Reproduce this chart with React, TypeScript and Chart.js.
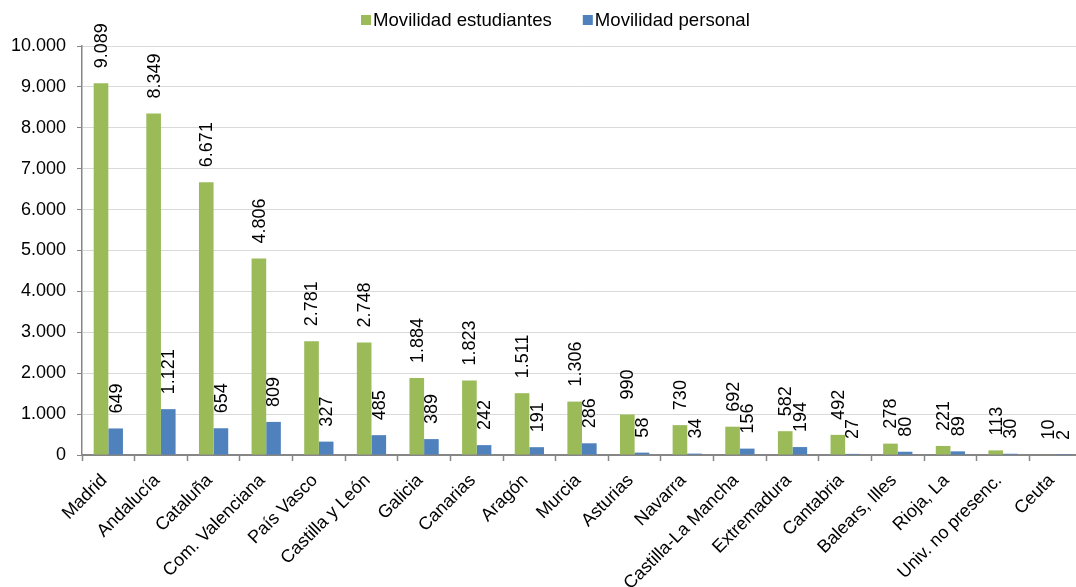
import React, { useEffect, useRef } from "react";
import { Chart, registerables } from "chart.js";

Chart.register(...registerables);

const categories = [
  "Madrid", "Andalucía", "Cataluña", "Com. Valenciana", "País Vasco",
  "Castilla y León", "Galicia", "Canarias", "Aragón", "Murcia", "Asturias",
  "Navarra", "Castilla-La Mancha", "Extremadura", "Cantabria",
  "Balears, Illes", "Rioja, La", "Univ. no presenc.", "Ceuta",
];
const estudiantes = [9089, 8349, 6671, 4806, 2781, 2748, 1884, 1823, 1511, 1306, 990, 730, 692, 582, 492, 278, 221, 113, 10];
const personal = [649, 1121, 654, 809, 327, 485, 389, 242, 191, 286, 58, 34, 156, 194, 27, 80, 89, 30, 2];
const seriesNames = ["Movilidad estudiantes", "Movilidad personal"];
const seriesColors = ["#9BBB59", "#4F81BD"];
const yMax = 10000;
const yStep = 1000;

const FONT = "'Liberation Sans', Arial, sans-serif";
const FS = 18;

const fmt = (v: number) => {
  const s = Math.round(v).toString();
  return s.replace(/\B(?=(\d{3})+(?!\d))/g, ".");
};

const labelPlugin = {
  id: "barLabels",
  afterDatasetsDraw(chart: any) {
    const ctx = chart.ctx;
    ctx.save();
    ctx.font = `${FS}px ${FONT}`;
    ctx.fillStyle = "#000";
    ctx.textAlign = "left";
    ctx.textBaseline = "middle";
    chart.data.datasets.forEach((ds: any, di: number) => {
      const meta = chart.getDatasetMeta(di);
      meta.data.forEach((bar: any, i: number) => {
        ctx.save();
        ctx.translate(bar.x + 1, bar.y - 15);
        ctx.rotate(-Math.PI / 2);
        ctx.fillText(fmt(ds.data[i]), 0, 0);
        ctx.restore();
      });
    });
    ctx.restore();
  },
};

const legendPlugin = {
  id: "customLegend",
  afterDraw(chart: any) {
    const ctx = chart.ctx;
    ctx.save();
    ctx.font = `18.6px ${FONT}`;
    ctx.textBaseline = "middle";
    ctx.textAlign = "left";
    let x = 361;
    const y = 20;
    seriesNames.forEach((name, i) => {
      ctx.fillStyle = seriesColors[i];
      ctx.fillRect(x, y - 5, 10, 10);
      ctx.fillStyle = "#000";
      ctx.fillText(name, x + 12, y + 1);
      x += 12 + ctx.measureText(name).width + 31;
    });
    ctx.restore();
  },
};

export default function App() {
  const ref = useRef<HTMLCanvasElement>(null);
  useEffect(() => {
    if (!ref.current) return;
    const chart = new Chart(ref.current, {
      type: "bar",
      data: {
        labels: categories,
        datasets: [
          { label: seriesNames[0], data: estudiantes, backgroundColor: seriesColors[0], categoryPercentage: 0.556, barPercentage: 1.0 },
          { label: seriesNames[1], data: personal, backgroundColor: seriesColors[1], categoryPercentage: 0.556, barPercentage: 1.0 },
        ],
      },
      options: {
        animation: false,
        responsive: false,
        layout: { padding: { top: 46, left: 0, right: 8, bottom: 0 } },
        plugins: { legend: { display: false }, tooltip: { enabled: false } },
        scales: {
          x: {
            afterFit: (s: any) => { s.height = 132; },
            grid: { display: true, drawOnChartArea: false, offset: true, tickLength: 6, tickColor: "#868686", tickWidth: 1.5 },
            border: { color: "#868686", width: 2 },
            ticks: {
              autoSkip: false, minRotation: 45, maxRotation: 45, padding: 9, labelOffset: -4,
              color: "#000", font: { family: FONT, size: FS },
            },
          },
          y: {
            min: 0, max: yMax,
            afterFit: (s: any) => { s.width = 82; },
            grid: { color: "#D9D9D9", lineWidth: 1, tickLength: 5, tickColor: "#868686" },
            border: { color: "#868686", width: 1.5 },
            ticks: {
              stepSize: yStep, padding: 11, color: "#000",
              font: { family: FONT, size: FS },
              callback: (v: any) => fmt(Number(v)),
            },
          },
        },
      },
      plugins: [labelPlugin, legendPlugin],
    });
    return () => chart.destroy();
  }, []);
  return (
    <div style={{ position: "fixed", left: 0, top: 0, width: 1076, height: 587, overflow: "hidden", background: "#fff" }}>
      <canvas ref={ref} width={1090} height={587} style={{ display: "block" }} />
    </div>
  );
}
